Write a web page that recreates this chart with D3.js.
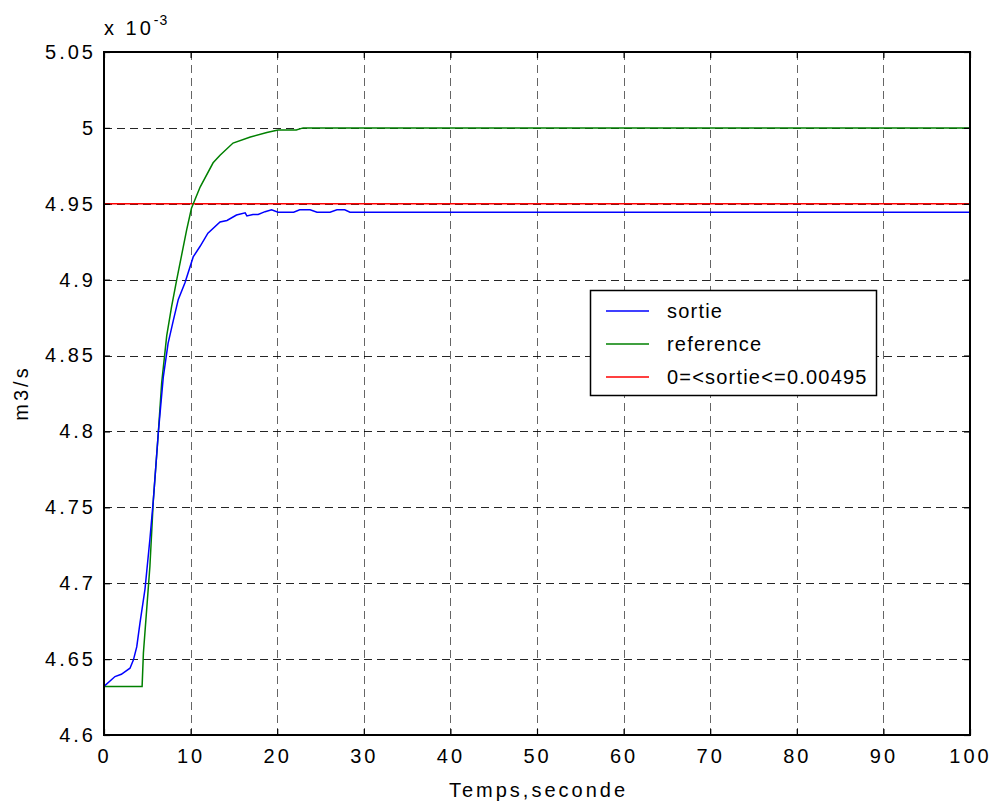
<!DOCTYPE html>
<html><head><meta charset="utf-8">
<script src="https://cdn.jsdelivr.net/npm/d3@7"></script>
<style>body{margin:0;background:#fff}svg{display:block}text{font-family:Arial,"Liberation Sans",sans-serif;fill:#000}</style>
</head><body>
<script>
// values in units of 1e-3 m3/s
const sortieT = [0,1.27,2.0,3.0,3.4,3.78,4.16,4.73,5.3,5.7,6.27,6.85,7.4,8.0,8.58,9.35,10.3,11.1,12.0,13.4,14.2,15.3,16.3,16.5,17.2,17.8,18.6,19.35,20.1,21.9,22.6,23.8,24.6,26.1,26.9,27.8,28.4,100];
const sortieV = [4.632,4.6385,4.640,4.644,4.6495,4.658,4.674,4.696,4.729,4.755,4.799,4.836,4.858,4.873,4.887,4.898,4.915,4.922,4.9306,4.938,4.939,4.9426,4.944,4.942,4.943,4.943,4.9448,4.946,4.9445,4.9445,4.946,4.946,4.9445,4.9445,4.946,4.946,4.9445,4.9445];
const refT = [0,4.4,4.55,5.3,5.7,6.27,6.66,7.24,7.8,8.4,9.55,10.1,11.1,12.6,13.4,14.9,16.9,18.8,20.1,22.2,23,100];
const refV = [4.632,4.632,4.654,4.711,4.755,4.799,4.832,4.863,4.882,4.90,4.933,4.947,4.961,4.977,4.982,4.990,4.994,4.997,4.9986,4.9986,5.0,5.0];
const limitT = [0,100];
const limitV = [4.95,4.95];
const xTicks = [0,10,20,30,40,50,60,70,80,90,100];
const yTicks = [4.6,4.65,4.7,4.75,4.8,4.85,4.9,4.95,5.0,5.05];
const yTickLabels = ["4.6","4.65","4.7","4.75","4.8","4.85","4.9","4.95","5","5.05"];
const legendLabels = ["sortie","reference","0=<sortie<=0.00495"];
const colors = ["#0000ff","#008000","#ff0000"];

const W=995,H=807;
const L=104,R=970,T=52,B=735;
const svg=d3.select("body").append("svg").attr("width",W).attr("height",H);
const x=d3.scaleLinear().domain([0,100]).range([L,R]);
const y=d3.scaleLinear().domain([4.6,5.05]).range([B,T]);
const g=svg.append("g");
// grid
g.selectAll(".vg").data(xTicks.slice(1,-1)).enter().append("line")
 .attr("x1",d=>Math.round(x(d))+0.5).attr("x2",d=>Math.round(x(d))+0.5).attr("y1",T).attr("y2",B)
 .attr("stroke","#000").attr("stroke-dasharray","8,5").attr("stroke-width",1).attr("opacity",0.6);
g.selectAll(".hg").data(yTicks.slice(1,-1)).enter().append("line")
 .attr("y1",d=>Math.round(y(d))+0.5).attr("y2",d=>Math.round(y(d))+0.5).attr("x1",L).attr("x2",R)
 .attr("stroke","#000").attr("stroke-dasharray","8,5").attr("stroke-width",1).attr("opacity",0.85);
// lines
const line=d3.line().x(d=>x(d[0])).y(d=>y(d[1]));
const series=[[sortieT,sortieV],[refT,refV],[limitT,limitV]];
[2,1,0].forEach(i=>{
  const [t,v]=series[i];
  g.append("path").datum(t.map((d,j)=>[d,v[j]])).attr("d",line).attr("fill","none").attr("stroke",colors[i]).attr("stroke-width",1.5);
});
// axes box
svg.append("rect").attr("x",L).attr("y",T).attr("width",R-L).attr("height",B-T).attr("fill","none").attr("stroke","#000").attr("stroke-width",2);
// ticks
const bx=d3.axisBottom(x).tickValues(xTicks).tickSize(-6).tickPadding(14);
svg.append("g").attr("transform",`translate(0,${B})`).call(bx);
const tx=d3.axisTop(x).tickValues(xTicks).tickSize(-6).tickFormat("");
svg.append("g").attr("transform",`translate(0,${T})`).call(tx);
const ly=d3.axisLeft(y).tickValues(yTicks).tickSize(-6).tickPadding(8).tickFormat((d,i)=>yTickLabels[i]);
svg.append("g").attr("transform",`translate(${L},0)`).call(ly);
const ry=d3.axisRight(y).tickValues(yTicks).tickSize(-6).tickFormat("");
svg.append("g").attr("transform",`translate(${R},0)`).call(ry);
svg.selectAll(".domain").remove();
svg.selectAll(".tick text").attr("font-size",20).attr("letter-spacing",3).attr("font-family","Arial, 'Liberation Sans', sans-serif").attr("fill","#000");
svg.selectAll(".tick line").attr("stroke","#000").attr("stroke-width",1.2);
// labels
svg.append("text").attr("x",(L+R)/2+1.5).attr("y",797).attr("text-anchor","middle").attr("font-size",20).attr("letter-spacing",3).text("Temps,seconde");
svg.append("text").attr("transform","translate(28,393) rotate(-90)").attr("text-anchor","middle").attr("font-size",20).attr("letter-spacing",3).text("m3/s");
const ex=svg.append("text").attr("x",104).attr("y",35).attr("font-size",20).attr("letter-spacing",3);
ex.append("tspan").text("x 10");
ex.append("tspan").attr("dy",-10).attr("font-size",14).attr("letter-spacing",1).text("-3");
// legend
const lg=svg.append("g");
lg.append("rect").attr("x",590.5).attr("y",290.5).attr("width",286).attr("height",105).attr("fill","#fff").attr("stroke","#000").attr("stroke-width",1.5);
legendLabels.forEach((s,i)=>{
  const yy=311+i*33;
  lg.append("line").attr("x1",606).attr("x2",649).attr("y1",yy).attr("y2",yy).attr("stroke",colors[i]).attr("stroke-width",1.5);
  lg.append("text").attr("x",667).attr("y",yy+7).attr("font-size",20).attr("letter-spacing",1.2).text(s);
});
</script>
</body></html>
